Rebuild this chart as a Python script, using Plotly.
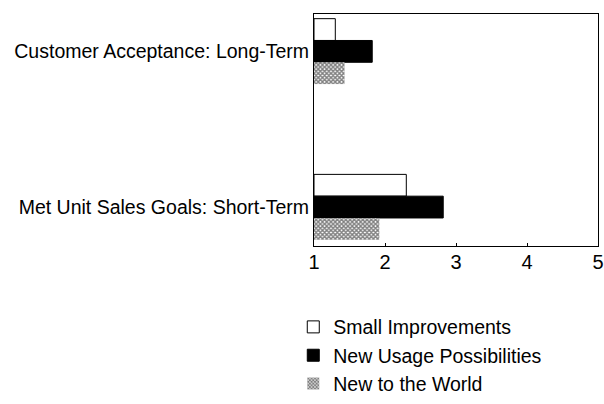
import plotly.graph_objects as go

categories = ["Customer Acceptance: Long-Term", "Met Unit Sales Goals: Short-Term"]
small_improvements = [1.3, 2.3]
new_usage = [1.82, 2.82]
new_world = [1.43, 1.92]
x_ticks = [1, 2, 3, 4, 5]

fig = go.Figure()
fig.add_trace(go.Bar(
    name="Small Improvements", y=categories, x=[v - 1 for v in small_improvements], base=1,
    orientation="h", marker=dict(color="white", line=dict(color="black", width=1)),
    legendgroup="a"))
fig.add_trace(go.Bar(
    name="New Usage Possibilities", y=categories, x=[v - 1 for v in new_usage], base=1,
    orientation="h", marker=dict(color="black", line=dict(color="black", width=1)),
    legendgroup="b"))
fig.add_trace(go.Bar(
    name="New to the World", y=categories, x=[v - 1 for v in new_world], base=1,
    orientation="h",
    marker=dict(color="white", line=dict(color="white", width=0),
                pattern=dict(shape="x", fgcolor="black", bgcolor="white", size=3, solidity=0.7)),
    legendgroup="c"))

fig.update_layout(
    width=604, height=404,
    margin=dict(l=314, r=6, t=14, b=158, autoexpand=False),
    paper_bgcolor="white", plot_bgcolor="white",
    barmode="group", bargap=0.58, bargroupgap=0,
    font=dict(family="Liberation Sans, Arial, sans-serif", size=19.5, color="black"),
    showlegend=True,
    legend=dict(x=-0.073, y=-0.266, xanchor="left", yanchor="top",
                traceorder="grouped", tracegroupgap=0,
                font=dict(size=19.5), bgcolor="rgba(0,0,0,0)"),
    xaxis=dict(range=[1, 5], tickvals=x_ticks, showgrid=False, zeroline=False,
               showline=True, linecolor="black", linewidth=1, mirror=True,
               ticks="inside", ticklen=3, tickcolor="black", automargin=False,
               ticklabeloverflow="allow", ticklabelstandoff=-2,
               tickfont=dict(size=20)),
    yaxis=dict(range=[1.25, -0.24], showgrid=False, zeroline=False,
               showline=True, linecolor="black", linewidth=1, mirror=True,
               automargin=False, ticks="", tickfont=dict(size=19.5)),
)

fig.write_html("out.html")
